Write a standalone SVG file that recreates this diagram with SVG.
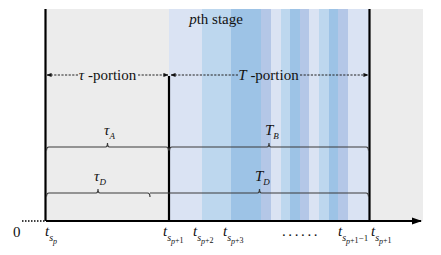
<svg xmlns="http://www.w3.org/2000/svg" width="441" height="255" viewBox="0 0 441 255" font-family="'Liberation Serif', 'DejaVu Serif', serif">
<defs>
<style>
text{font-family:'Liberation Serif','DejaVu Serif',serif;fill:#111}
.lbl{font-size:15px}
.it{font-style:italic}
.dash{stroke:#222;stroke-width:1;stroke-dasharray:2.2 1.4;fill:none}
.br{stroke:#3a3a3a;stroke-width:1.2;fill:none}
.vl{stroke:#000;stroke-width:2.2}
</style>
<marker id="ah" viewBox="0 0 6 6" refX="5.5" refY="3" markerWidth="5" markerHeight="5" orient="auto-start-reverse" markerUnits="userSpaceOnUse">
<path d="M0,0.5 L6,3 L0,5.5 Z" fill="#111"/>
</marker>
<marker id="axh" viewBox="0 0 10 8" refX="9" refY="4" markerWidth="10" markerHeight="8" orient="auto" markerUnits="userSpaceOnUse">
<path d="M0,0.5 L10,4 L0,7.5 Z" fill="#000"/>
</marker>
</defs>
<rect width="441" height="255" fill="#fff"/>
<g id="background">
<rect x="45" y="9" width="378" height="212" fill="#ececec"/>
<rect x="169" y="9" width="200" height="212" fill="#dae3f3"/>
<rect x="202" y="9" width="29" height="212" fill="#bdd7ee"/>
<rect x="231" y="9" width="30" height="212" fill="#9dc3e6"/>
<rect x="261" y="9" width="10" height="212" fill="#b4c7e7"/>
<rect x="271" y="9" width="10" height="212" fill="#dae3f3"/>
<rect x="281" y="9" width="9" height="212" fill="#bdd7ee"/>
<rect x="290" y="9" width="10" height="212" fill="#9dc3e6"/>
<rect x="300" y="9" width="9" height="212" fill="#b4c7e7"/>
<rect x="309" y="9" width="10" height="212" fill="#dae3f3"/>
<rect x="319" y="9" width="10" height="212" fill="#bdd7ee"/>
<rect x="329" y="9" width="9" height="212" fill="#9dc3e6"/>
<rect x="338" y="9" width="10" height="212" fill="#b4c7e7"/>
</g>
<g id="stage-label">
<text x="216" y="24" class="lbl" text-anchor="middle"><tspan class="it">p</tspan>th stage</text>
</g>
<g id="connectors">
<line class="vl" x1="45.5" y1="9" x2="45.5" y2="221"/>
<line class="vl" x1="169" y1="76" x2="169" y2="221"/>
<line class="vl" x1="369.5" y1="9" x2="369.5" y2="221"/>
<line x1="46" y1="221" x2="421" y2="221" stroke="#000" stroke-width="2.2" marker-end="url(#axh)"/>
<line x1="22" y1="221" x2="45" y2="221" stroke="#000" stroke-width="1.6" stroke-dasharray="1.5 1.5"/>
<line class="dash" x1="47" y1="75" x2="78" y2="75" marker-start="url(#ah)"/>
<line class="dash" x1="138" y1="75" x2="168" y2="75" marker-end="url(#ah)"/>
<line class="dash" x1="171" y1="75" x2="238" y2="75" marker-start="url(#ah)"/>
<line class="dash" x1="300" y1="75" x2="368" y2="75" marker-end="url(#ah)"/>
</g>
<g id="tau-portion">
<text x="107.5" y="80" class="lbl" text-anchor="middle"><tspan class="it">τ</tspan> -portion</text>
</g>
<g id="T-portion">
<text x="268.5" y="80" class="lbl" text-anchor="middle"><tspan class="it">T</tspan> -portion</text>
</g>
<g id="tauA">
<path class="br" d="M46.5,150.5 Q46.5,147 49,147 L105.5,147 Q107.5,147 107.5,143 Q107.5,147 109.5,147 L166,147 Q168.5,147 168.5,150.5"/>
<text x="104" y="135" class="lbl it">τ<tspan dy="4" font-size="9">A</tspan></text>
</g>
<g id="TB">
<path class="br" d="M169.5,150.5 Q169.5,147 172,147 L267,147 Q269,147 269,143 Q269,147 271,147 L366,147 Q368.5,147 368.5,150.5"/>
<text x="265" y="135" class="lbl it">T<tspan dy="4" font-size="9">B</tspan></text>
</g>
<g id="tauD">
<path class="br" d="M46.5,196.5 Q46.5,193 49,193 L96,193 Q98,193 98,189 Q98,193 100,193 L147.5,193 Q150,193 150,197"/>
<text x="94" y="181" class="lbl it">τ<tspan dy="4" font-size="9">D</tspan></text>
</g>
<g id="TD">
<path class="br" d="M150,193 L257.5,193 Q259.5,193 259.5,189 Q259.5,193 261.5,193 L366,193 Q368.5,193 368.5,196.5"/>
<text x="255" y="181" class="lbl it">T<tspan dy="4" font-size="9">D</tspan></text>
</g>
<g id="axis-labels">
<text x="13" y="237" class="lbl">0</text>
<text x="45" y="236" class="lbl"><tspan class="it">t</tspan><tspan class="it" dy="5" font-size="10">s</tspan><tspan class="it" dy="3" font-size="8">p</tspan></text>
<text x="163" y="236" class="lbl"><tspan class="it">t</tspan><tspan class="it" dy="5" font-size="10">s</tspan><tspan class="it" dy="3" font-size="8">p</tspan><tspan dy="-1" font-size="8">+1</tspan></text>
<text x="193" y="236" class="lbl"><tspan class="it">t</tspan><tspan class="it" dy="5" font-size="10">s</tspan><tspan class="it" dy="3" font-size="8">p</tspan><tspan dy="-1" font-size="8">+2</tspan></text>
<text x="223" y="236" class="lbl"><tspan class="it">t</tspan><tspan class="it" dy="5" font-size="10">s</tspan><tspan class="it" dy="3" font-size="8">p</tspan><tspan dy="-1" font-size="8">+3</tspan></text>
<text x="282" y="236" class="lbl" letter-spacing="2.6">......</text>
<text x="338" y="236" class="lbl"><tspan class="it">t</tspan><tspan class="it" dy="5" font-size="10">s</tspan><tspan class="it" dy="3" font-size="8">p</tspan><tspan dy="-1" font-size="8">+1</tspan><tspan dy="-2" font-size="9">−1</tspan></text>
<text x="371" y="236" class="lbl"><tspan class="it">t</tspan><tspan class="it" dy="5" font-size="10">s</tspan><tspan class="it" dy="3" font-size="8">p</tspan><tspan dy="-1" font-size="8">+1</tspan></text>
</g>
</svg>
